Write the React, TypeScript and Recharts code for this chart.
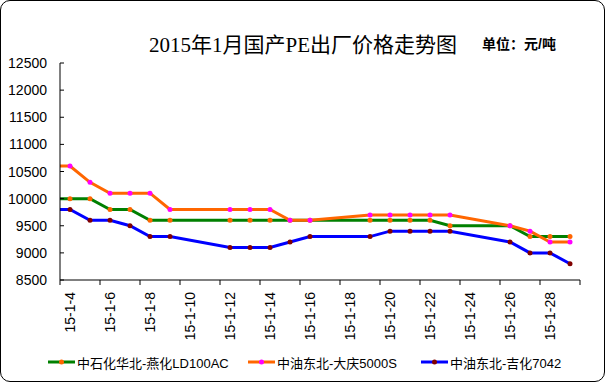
import { LineChart, Line, XAxis, YAxis } from 'recharts'

// trading days of Jan 2015 (day 0 = last point of Dec, only its segment into the axis shows)
const days = [0, 4, 5, 6, 7, 8, 9, 12, 13, 14, 15, 16, 19, 20, 21, 22, 23, 26, 27, 28, 29]
const yanhua = [10000, 10000, 10000, 9800, 9800, 9600, 9600, 9600, 9600, 9600, 9600, 9600, 9600, 9600, 9600, 9600, 9500, 9500, 9300, 9300, 9300]
const daqing = [10600, 10600, 10300, 10100, 10100, 10100, 9800, 9800, 9800, 9800, 9600, 9600, 9700, 9700, 9700, 9700, 9700, 9500, 9400, 9200, 9200]
const jihua = [9800, 9800, 9600, 9600, 9500, 9300, 9300, 9100, 9100, 9100, 9200, 9300, 9300, 9400, 9400, 9400, 9400, 9200, 9000, 9000, 8800]

const labelDays = [4, 6, 8, 10, 12, 14, 16, 18, 20, 22, 24, 26, 28]
const xLabels = ['15-1-4', '15-1-6', '15-1-8', '15-1-10', '15-1-12', '15-1-14', '15-1-16', '15-1-18', '15-1-20', '15-1-22', '15-1-24', '15-1-26', '15-1-28']
const yTicks = [8500, 9000, 9500, 10000, 10500, 11000, 11500, 12000, 12500]

const SERIES = [
  { key: 'yanhua', name: '中石化华北-燕化LD100AC', stroke: '#008000', marker: '#FF6600' },
  { key: 'daqing', name: '中油东北-大庆5000S', stroke: '#FF6600', marker: '#FF00FF' },
  { key: 'jihua', name: '中油东北-吉化7042', stroke: '#0000FF', marker: '#800000' },
]

const data = days.map((d, i) => ({ day: d, yanhua: yanhua[i], daqing: daqing[i], jihua: jihua[i] }))
const xTicks = [...labelDays.map((d) => d - 0.5), labelDays[labelDays.length - 1] + 1.5]

const FONT = '"Liberation Sans", "Noto Sans CJK SC", sans-serif'

function XTick({ x, y, payload }: any) {
  const idx = labelDays.indexOf(payload.value + 0.5)
  return (
    <g>
      <line x1={x} y1={y} x2={x} y2={y + 5} stroke="#000" />
      {idx >= 0 && (
        <text
          transform={`translate(${x + 10},${y + 12}) rotate(-90)`}
          textAnchor="end"
          dy="0.36em"
          fontSize={14}
          fontFamily={FONT}
          fill="#000"
        >
          {xLabels[idx]}
        </text>
      )}
    </g>
  )
}

function YTick({ x, y, payload }: any) {
  return (
    <g>
      <line x1={x} y1={y} x2={x + 4} y2={y} stroke="#000" />
      <text x={x - 13} y={y} dy="0.36em" textAnchor="end" fontSize={14} fontFamily={FONT} fill="#000">
        {payload.value}
      </text>
    </g>
  )
}

function Marker(color: string) {
  return (props: any) => {
    const { cx, cy } = props
    if (cx == null || cy == null) return <g />
    return <circle cx={cx} cy={cy} r={2.5} fill={color} stroke="none" />
  }
}

export default function App() {
  return (
    <div style={{ position: 'absolute', left: 0, top: 0, width: 605, height: 382, background: '#fff', fontFamily: FONT }}>
      <div
        style={{
          position: 'absolute',
          left: 0,
          top: 0,
          width: 603,
          height: 380,
          border: '1px solid #000',
          borderRadius: 10,
        }}
      />
      <div
        style={{
          position: 'absolute',
          left: 149,
          top: 28,
          fontSize: 21,
          fontFamily: '"Liberation Serif", "Noto Sans CJK SC", serif',
          whiteSpace: 'nowrap',
        }}
      >
        2015年1月国产PE出厂价格走势图
      </div>
      <div style={{ position: 'absolute', left: 482, top: 33, fontSize: 14, fontWeight: 'bold', whiteSpace: 'nowrap' }}>
        单位：元/吨
      </div>
      <LineChart width={605} height={382} data={data} margin={{ top: 63, right: 25, bottom: 32, left: 0 }}>
        <XAxis
          dataKey="day"
          type="number"
          domain={[3.5, 29.5]}
          allowDataOverflow
          ticks={xTicks}
          interval={0}
          tick={<XTick />}
          tickLine={false}
          tickSize={0}
          tickMargin={0}
          height={70}
          stroke="#000"
        />
        <YAxis
          domain={[8500, 12500]}
          ticks={yTicks}
          interval={0}
          tick={<YTick />}
          tickLine={false}
          tickSize={0}
          tickMargin={0}
          width={60}
          stroke="#000"
        />
        {SERIES.map((s) => (
          <Line
            key={s.key}
            dataKey={s.key}
            name={s.name}
            stroke={s.stroke}
            strokeWidth={3}
            type="linear"
            dot={Marker(s.marker)}
            activeDot={false}
            isAnimationActive={false}
          />
        ))}
      </LineChart>
      <div style={{ position: 'absolute', top: 353, left: 0, width: 605, height: 18 }}>
        {SERIES.map((s, i) => (
          <div
            key={s.key}
            style={{
              position: 'absolute',
              left: [48, 248, 421][i],
              top: 0,
              display: 'flex',
              alignItems: 'center',
              fontSize: 13,
              whiteSpace: 'nowrap',
              height: 18,
            }}
          >
            <svg width={27} height={8} style={{ marginRight: 2 }}>
              <line x1={0} y1={4} x2={27} y2={4} stroke={s.stroke} strokeWidth={3} />
              <circle cx={13.5} cy={4} r={2.5} fill={s.marker} />
            </svg>
            {s.name}
          </div>
        ))}
      </div>
    </div>
  )
}
